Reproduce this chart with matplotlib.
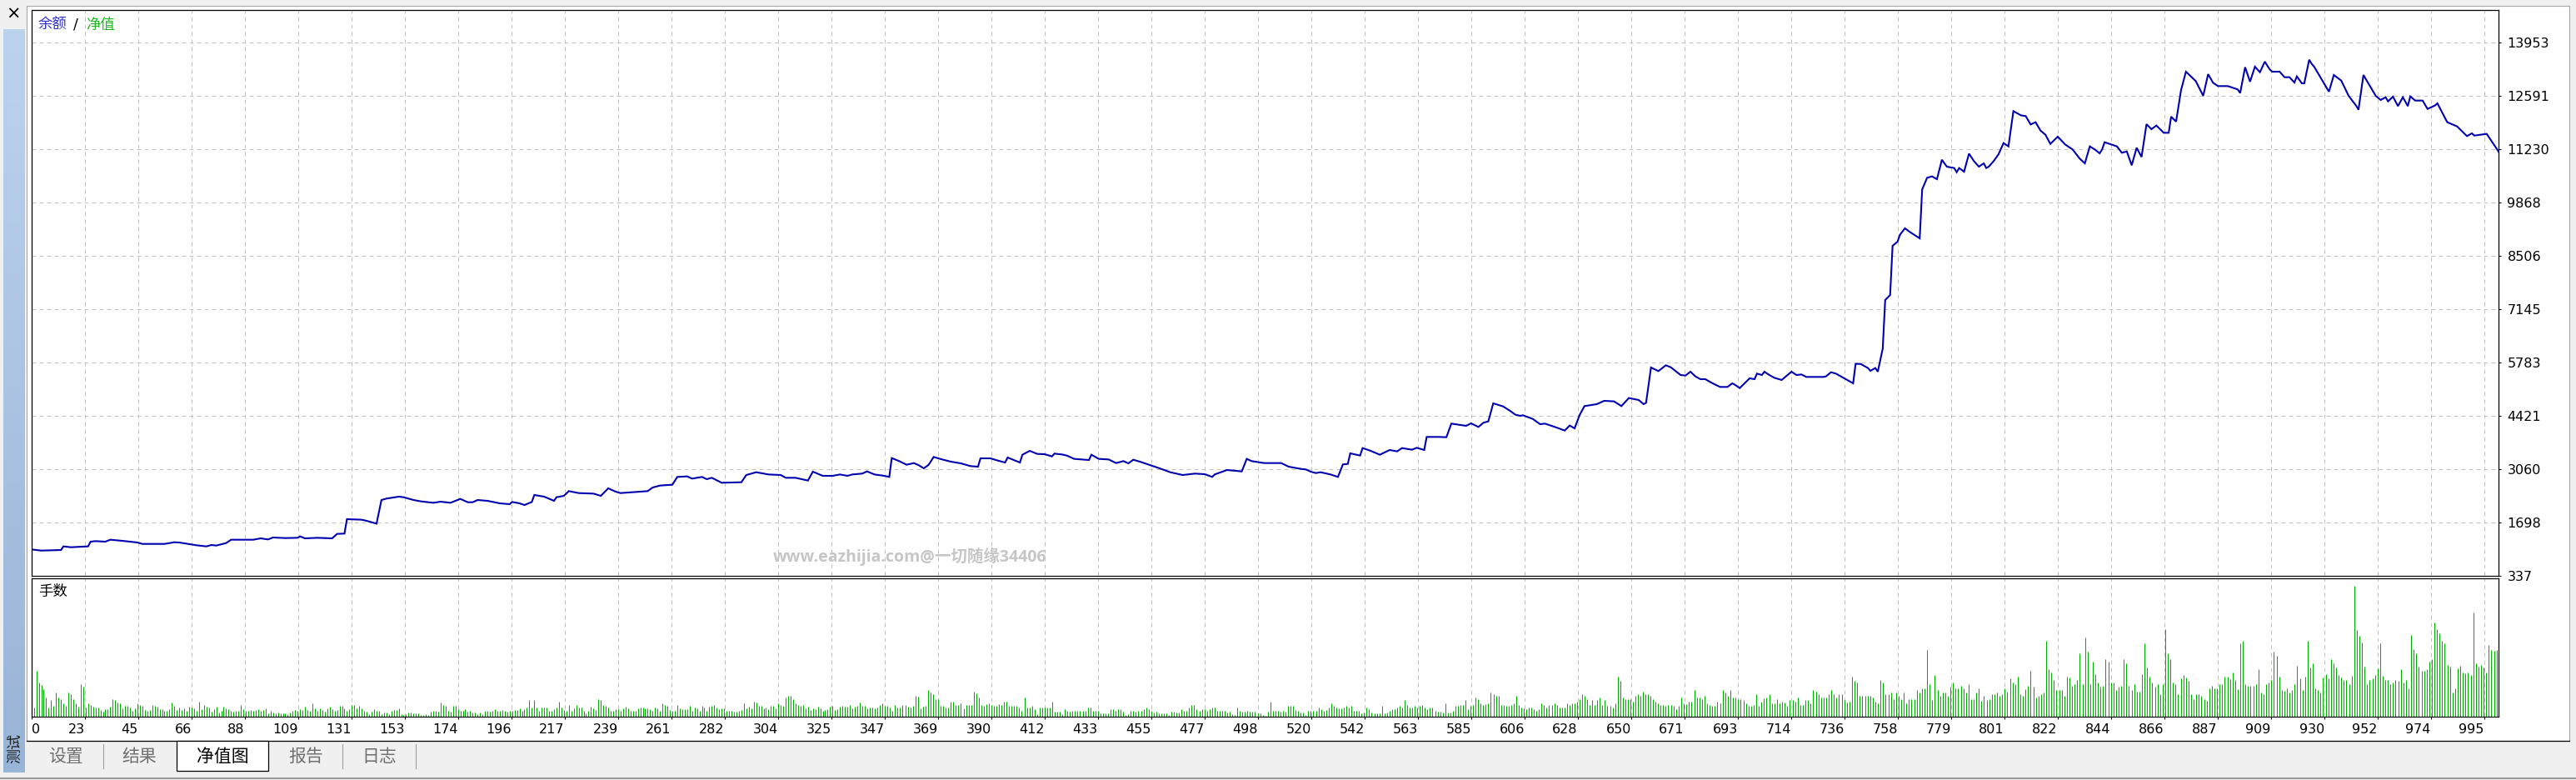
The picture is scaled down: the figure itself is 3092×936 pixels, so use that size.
import numpy as np
import matplotlib.pyplot as plt
from matplotlib.patches import Rectangle
from matplotlib.lines import Line2D

plt.rcParams['font.family'] = ['DejaVu Sans', 'Noto Sans CJK SC']
CJK = ['Noto Sans CJK SC', 'DejaVu Sans']

# balance curve (trade number -> balance)
trade_no = [0, 4, 12, 13, 16, 23, 24, 26, 30, 32, 37, 43, 45, 54, 58, 60, 65, 67, 71, 73, 75, 79, 81, 90, 93, 96,
            98, 103, 108, 109, 111, 116, 122, 124, 127, 128, 134, 136, 140, 142, 144, 149, 151, 155, 158, 163, 166,
            170, 174, 177, 179, 181, 185, 190, 194, 195, 198, 200, 203, 204, 208, 212, 213, 216, 218, 222, 228, 231,
            234, 237, 239, 250, 252, 255, 260, 262, 266, 268, 272, 274, 276, 280, 288, 290, 294, 299, 304, 306, 310,
            315, 317, 321, 325, 328, 331, 333,
            337, 339, 342, 346, 348, 349, 352, 355, 358, 360, 362, 364, 366, 369, 373, 377, 381, 384, 385, 389, 392,
            395, 396, 401, 402, 405, 408, 411, 414, 415, 418, 420, 423, 429, 430, 433, 437, 440, 443, 445, 447, 450,
            454, 458, 462, 467, 472, 476, 479, 480, 485, 491, 493, 495, 500, 507, 510, 515, 517, 519, 521, 523, 527,
            530, 532, 534, 535, 539, 540, 543, 547, 551, 554, 556, 560, 562, 565, 566, 571, 574, 576, 582, 584, 587,
            589, 591, 593, 597, 600, 602, 604, 605, 609, 612, 614, 618, 622, 624, 626, 628, 630, 635, 638, 642, 645,
            648, 652, 654, 655, 657, 660,
            663, 665, 669, 671, 672, 673, 675, 677, 679, 682, 685, 688, 690, 691, 693, 697, 699, 700, 702, 703, 705,
            707, 710, 714, 716, 718, 720, 727, 728, 730, 732, 734, 739, 740, 742, 745, 746, 748, 749, 751, 752, 754,
            755, 757, 758, 760, 762, 766, 767, 769, 771, 773, 775, 777, 780, 781, 782, 784, 786, 788, 790, 792, 793,
            794, 796, 798, 800, 802, 804, 807, 809, 811, 813, 815, 817, 819, 822, 825, 828, 831, 833, 835, 837, 839,
            840, 841, 846, 848, 850, 852, 854, 856, 858, 860, 862, 865, 867, 868, 870, 872, 874, 876, 878, 881, 883,
            885, 887, 891, 895, 896, 898, 900, 902, 904, 906, 908, 909, 912, 914, 916, 918, 919, 921, 922, 924, 925,
            926, 932, 934, 937, 940, 943, 944, 946, 951, 953, 955, 956, 958, 960, 962, 964, 965, 967, 970, 972, 975,
            976, 980, 984, 988, 990, 991, 996, 1001]
balance = [1011, 982, 996, 1089, 1067, 1089, 1209, 1223, 1209, 1259, 1230, 1188, 1152, 1152, 1195, 1188, 1138, 1117,
           1089, 1124, 1110, 1174, 1259, 1259, 1294, 1266, 1316, 1301, 1308, 1344, 1294, 1308, 1294, 1408, 1415, 1784,
           1770, 1741, 1670, 2273, 2309, 2358, 2344, 2273, 2238, 2202, 2230, 2202, 2301, 2216, 2216, 2273, 2252, 2188,
           2167, 2223, 2188, 2145, 2223, 2401, 2358, 2252, 2344, 2379, 2500, 2450, 2436, 2379, 2571, 2486, 2450, 2500,
           2592, 2642, 2663, 2862, 2876, 2819, 2862, 2805, 2840, 2713, 2727, 2911, 2982, 2925, 2911, 2840, 2840, 2769,
           2996, 2890, 2890, 2925, 2890, 2925,
           2947, 3003, 2925, 2890, 2862, 3344, 3266, 3174, 3216, 3159, 3081, 3174, 3372, 3316, 3252, 3209, 3138, 3124,
           3337, 3337, 3280, 3230, 3358, 3230, 3429, 3528, 3450, 3443, 3386, 3457, 3436, 3408, 3323, 3294, 3429, 3323,
           3308, 3216, 3266, 3209, 3301, 3245, 3159, 3074, 2982, 2911, 2947, 2932, 2862, 2925, 3039, 3003, 3323, 3266,
           3216, 3216, 3124, 3067, 3053, 2996, 2961, 2982, 2925, 2862, 3181, 3195, 3464, 3408, 3599, 3535, 3429, 3550,
           3514, 3599, 3557, 3606, 3550, 3883, 3883, 3876, 4223, 4167, 4230, 4138, 4245, 4280, 4741, 4663, 4542, 4450,
           4422, 4436, 4344, 4209, 4223, 4138, 4046, 4174, 4103, 4436, 4670, 4720, 4805, 4791, 4670, 4876, 4826, 4720,
           4755, 5656, 5564,
           5712, 5663, 5464, 5450, 5500, 5549, 5429, 5358, 5358, 5252, 5159, 5159, 5252, 5216, 5131, 5379, 5358, 5500,
           5464, 5549, 5464, 5394, 5337, 5549, 5464, 5478, 5415, 5415, 5429, 5535, 5500, 5429, 5252, 5748, 5748, 5642,
           5571, 5642, 5549, 6138, 7377, 7507, 8762, 8868, 9046, 9209, 9116, 8953, 10202, 10499, 10535, 10464, 10960,
           10783, 10748, 10641, 10748, 10655, 11116, 10925, 10783, 10868, 10748, 10783, 10925, 11102, 11386, 11301,
           12201, 12095, 12074, 11861, 11918, 11705, 11599, 11365, 11549, 11350, 11223, 10982, 10868, 11301, 11223,
           11124, 11223, 11407, 11301, 11138, 11173, 10818, 11265, 11031, 11868, 11740, 11833, 11648, 11648, 12060,
           11932, 12733, 13208, 13088, 12967, 12591, 13145, 12925, 12840, 12840, 12755, 12662, 13322, 12953, 13336,
           13194, 13464, 13265, 13208, 13208, 13067, 13067, 12932, 13088, 12911, 12911, 13513, 13407, 13336, 12698,
           13123, 12981, 12591, 12343, 12237, 13123, 12591, 12485, 12556, 12450, 12570, 12329, 12556, 12329, 12577,
           12471, 12471, 12258, 12343, 12400, 11918, 11811, 11563, 11634, 11577, 11620, 11152]

# lot sizes (x100) per trade, three stretches of the test
lots_a = [32, 165, 123, 112, 97, 70, 32, 61, 40, 87, 70, 63, 47, 40, 87, 82, 62, 47, 37, 117, 108, 32, 47, 41, 37, 34,
          32, 24, 17, 26, 27, 37, 63, 60, 52, 47, 29, 39, 39, 34, 20, 29, 47, 42, 38, 23, 20, 25, 42, 38, 36, 27, 27,
          21, 21, 27, 51, 40, 25, 34, 23, 30, 20, 37, 32, 30, 22, 55, 26, 42, 36, 33, 19, 27, 35, 14, 20, 37, 30, 28,
          20, 17, 20, 20, 43, 27, 22, 22, 25, 21, 25, 27, 20, 24, 31, 12, 22, 15, 12, 14, 13, 13, 12, 10, 15, 20, 25,
          20, 26, 24, 37, 25, 20, 47, 30, 22, 30, 25, 18, 30, 37, 27, 20, 25, 38, 40, 29, 20, 26, 42, 42, 31, 40, 30,
          22, 18, 10, 19, 27, 20, 20, 10, 15, 14, 10, 20, 25, 25, 30, 10, 7, 10, 15, 15, 13, 12, 12, 5, 7, 8, 5, 18,
          20, 20, 18, 50, 42, 38, 22, 19, 38, 38, 28, 20, 22, 28, 17, 20, 15, 16, 10, 15, 10, 20, 20, 18, 20, 26, 22,
          20, 24, 22, 18, 20, 22, 23, 25, 30, 20, 27, 33, 60, 34, 60, 33, 22, 33, 33, 33, 22, 22, 27, 33, 53, 32, 23,
          20, 42, 20, 30, 41, 33, 33, 20, 13, 22, 37, 30, 25, 63, 61, 42, 38, 33, 20, 22, 27, 27, 20, 30, 35, 30, 20,
          22, 20, 30, 34, 32, 30, 30, 28, 20, 33, 30, 20, 48, 42, 40, 25, 22, 22, 41, 30, 27, 27, 27, 40, 20, 33, 30,
          20, 40, 33, 22, 35, 40, 42, 33, 27, 30, 30, 22, 20, 20, 18, 17, 20, 23, 47, 30, 37, 30, 55, 52, 40, 38, 30,
          32, 28, 40, 38, 30, 47, 42, 40, 70, 75, 75, 63, 48, 42, 40, 42, 30, 37, 25, 30, 28, 37, 30, 20, 25, 28, 35,
          40, 25, 27, 35, 40, 35, 37, 42, 30, 37, 40, 50, 38]
lots_b = [39, 30, 33, 33, 31, 34, 42, 49, 39, 39, 32, 21, 42, 33, 33, 42, 41, 37, 33, 39, 75, 71, 29, 35, 39, 96, 87,
          80, 63, 63, 39, 39, 32, 32, 54, 54, 41, 43, 49, 30, 41, 41, 41, 90, 83, 69, 42, 40, 45, 47, 42, 40, 40, 44,
          43, 54, 54, 39, 39, 39, 39, 32, 22, 69, 33, 32, 39, 27, 10, 33, 33, 33, 33, 33, 54, 17, 17, 17, 10, 27, 22,
          17, 21, 21, 21, 21, 21, 21, 33, 33, 21, 21, 21, 12, 12, 12, 12, 27, 27, 21, 27, 27, 18, 7, 10, 21, 21, 19,
          21, 21, 28, 33, 27, 21, 14, 17, 12, 12, 13, 12, 7, 17, 17, 15, 15, 26, 20, 21, 33, 42, 41, 28, 20, 27, 27,
          20, 27, 33, 33, 21, 21, 21, 21, 14, 17, 10, 7, 33, 21, 17, 17, 20, 17, 18, 17, 12, 13, 7, 4, 17, 54, 21, 21,
          21, 19, 21, 19, 39, 39, 39, 23, 21, 14, 14, 7, 21, 21, 21, 21, 33, 27, 21, 25, 33, 48, 39, 33, 29, 29, 33,
          39, 33, 39, 21, 21, 21, 12, 14, 33, 27, 14, 12, 12, 12, 39, 12, 14, 21, 27, 27, 33, 39, 33, 60, 42, 33, 33,
          39, 33, 39, 42, 33, 27, 33, 33, 21, 19, 19, 14, 48, 14, 14, 21, 39, 39, 42, 42, 60, 27, 39, 42, 69, 63, 48,
          42, 44, 48, 87, 81, 75, 75, 42, 42, 39, 39, 42, 48, 75, 42, 33, 29, 27, 33, 33, 27, 21, 27, 48, 42, 33, 42,
          42, 48, 42, 33, 33, 33, 48, 42, 48, 48, 54, 63, 81, 75, 63, 42, 60, 42, 60, 69, 42, 60, 39, 39, 33, 48, 144,
          129, 69, 63, 63, 63, 54, 75, 81, 75, 90, 81, 81, 75, 63, 54, 48, 42, 42, 39]
lots_c = [42, 41, 39, 27, 39, 69, 48, 45, 54, 54, 96, 69, 69, 63, 75, 48, 42, 39, 39, 54, 48, 96, 87, 75, 96, 69, 69,
          63, 63, 60, 48, 39, 39, 42, 81, 39, 54, 66, 69, 81, 48, 48, 63, 48, 55, 52, 39, 60, 60, 54, 69, 42, 42, 60,
          60, 48, 96, 89, 81, 69, 69, 69, 81, 96, 81, 69, 81, 81, 61, 50, 54, 144, 129, 123, 75, 75, 75, 75, 75, 69,
          54, 48, 132, 123, 81, 81, 87, 63, 87, 75, 63, 87, 48, 63, 63, 63, 96, 87, 102, 102, 240, 117, 60, 150, 96,
          75, 87, 87, 75, 108, 123, 102, 102, 111, 102, 87, 117, 63, 63, 87, 102, 57, 75, 60, 63, 81, 81, 87, 75, 81,
          102, 90, 138, 123, 117, 144, 81, 75, 99, 111, 165, 108, 69, 75, 81, 87, 270, 171, 159, 132, 96, 96, 96, 75,
          144, 141, 111, 117, 132, 228, 117, 282, 234, 117, 198, 153, 123, 108, 111, 207, 198, 123, 123, 96, 108, 111,
          207, 192, 111, 96, 117, 90, 90, 153, 261, 177, 144, 123, 108, 117, 81, 117, 312, 228, 207, 123, 117, 81,
          138, 150, 141, 129, 81, 63, 81, 81, 75, 63, 57, 102, 111, 102, 102, 117, 117, 144, 144, 135, 159, 132, 99,
          261, 270, 117, 111, 111, 111, 117, 171, 87, 81, 117, 123, 132, 234, 219, 144, 96, 93, 102, 87, 96, 117, 182,
          138, 96, 144, 270, 177, 192, 102, 96, 87, 141, 153, 138, 207, 192, 177, 150, 141, 132, 132, 117, 147, 469,
          309, 288, 264, 180, 117, 132, 138, 150, 174, 261, 147, 132, 132, 117, 123, 132, 129, 171, 123, 132, 102,
          292, 243, 228, 180, 165, 165, 171, 198, 207, 336, 312, 297, 270, 261, 186, 180, 87, 102, 174, 183, 159, 156,
          159, 150, 372, 192, 180, 186, 177, 159, 255, 240, 237, 240]

x_labels = ['0', '23', '45', '66', '88', '109', '131', '153', '174', '196', '217', '239', '261', '282', '304', '325',
            '347', '369', '390', '412', '433', '455', '477', '498', '520', '542', '563', '585', '606', '628', '650',
            '671', '693', '714', '736', '758', '779', '801', '822', '844', '866', '887', '909', '930', '952', '974',
            '995']
y_labels = ['337', '1698', '3060', '4421', '5783', '7145', '8506', '9868', '11230', '12591', '13953']

W, H = 3092, 936
fig = plt.figure(figsize=(W / 100, H / 100), dpi=100, facecolor='#f0f0f0')


def box(x0, y0, x1, y1, **kw):
    fig.add_artist(Rectangle((x0 / W, 1 - y1 / H), (x1 - x0) / W, (y1 - y0) / H,
                             transform=fig.transFigure, **kw))


def fline(xs, ys, **kw):
    fig.add_artist(Line2D([x / W for x in xs], [1 - y / H for y in ys], transform=fig.transFigure, **kw))


# window chrome
box(32, 7, 3084, 889, facecolor='white', edgecolor='#a8a8a8', lw=0.8, zorder=-5)
grad = np.linspace(0, 1, 200).reshape(-1, 1)
side = fig.add_axes([4 / W, 1 - 927 / H, 26 / W, (927 - 35) / H], zorder=-4)
side.imshow(grad, aspect='auto', cmap=plt.matplotlib.colors.LinearSegmentedColormap.from_list(
    'side', ['#bcd3ee', '#98b4d6']), extent=(0, 1, 0, 1), origin='upper')
side.set_axis_off()
fig.text(16 / W, 1 - 17 / H, '×', fontsize=15, ha='center', va='center', color='black')
fig.text(18 / W, 1 - 898 / H, '测试', family=CJK, fontsize=13, rotation=90, ha='center', va='center',
         color='#202020')

# tab strip
fline([32, 3084], [889, 889], color='black', lw=0.9)
box(212, 889, 322, 925, facecolor='white', edgecolor='black', lw=0.9, zorder=2)
fline([0, W], [934, 934], color='#9a9a9a', lw=1.5)
for sx in [124, 411, 499]:
    fline([sx, sx], [893, 922], color='#a0a0a0', lw=0.8)
for tx, name, col in [(79, '设置', '#707070'), (167, '结果', '#707070'), (267, '净值图', 'black'),
                      (367, '报告', '#707070'), (455, '日志', '#707070')]:
    fig.text(tx / W, 1 - 908 / H, name, family=CJK, fontsize=15, ha='center', va='center', color=col, zorder=3)

L, R = 37.7, 2999
ax = fig.add_axes([L / W, 1 - 691 / H, (R - L) / W, (691 - 12) / H])
ax2 = fig.add_axes([L / W, 1 - 860 / H, (R - L) / W, (860 - 694) / H])

xt = np.arange(len(x_labels)) * 995 / (len(x_labels) - 1)
y_step = (13953 - 337) / 10
yt = 337 + np.arange(len(y_labels)) * y_step
grid_kw = dict(color='#c4c4c4', lw=0.72, ls=(0, (5, 4)))

for a in (ax, ax2):
    a.set_xlim(0, 1000.8)
    a.set_xticks(xt)
    a.set_axisbelow(True)
    a.grid(True, axis='x', **grid_kw)
    for s in a.spines.values():
        s.set_linewidth(0.9)
        s.set_color('black')

ax.plot(trade_no, balance, color='#0000b0', lw=1.5, solid_joinstyle='miter')
ax.set_ylim(337, 337 + 679 * (13616 / 640))
ax.set_yticks(yt)
ax.set_yticklabels(y_labels)
ax.grid(True, axis='y', **grid_kw)
ax.yaxis.tick_right()
ax.tick_params(axis='y', direction='out', length=2.5, width=0.72, pad=5, labelsize=11.5)
ax.tick_params(axis='x', length=0, labelbottom=False)

fig.text(46 / W, 1 - 30 / H, '余额', family=CJK, fontsize=12.5, color='#3030d0', va='center')
fig.text(88 / W, 1 - 30 / H, '/', fontsize=12.5, color='black', va='center')
fig.text(103 / W, 1 - 30 / H, '净值', family=CJK, fontsize=12.5, color='#20b820', va='center')

fig.text(1092 / W, 1 - 668 / H, 'www.eazhijia.com@一切随缘34406', family=['Open Sans', 'Noto Sans CJK SC'],
         fontsize=14, fontweight='bold', color='#c6c6c6', ha='center', va='center')

# lots panel
xa = np.linspace(1, 337, len(lots_a))
xb = np.linspace(338, 663, len(lots_b))
xc = np.linspace(664, 1000, len(lots_c))
bar_x = np.concatenate([xa, xb, xc])
bar_h = np.array(lots_a + lots_b + lots_c) / 100
ax2.vlines(bar_x, 0, bar_h, color='#00b000', lw=0.75)
ax2.set_ylim(0, 4.95)
ax2.set_yticks([])
ax2.set_xticklabels(x_labels)
ax2.tick_params(axis='x', direction='out', length=2.5, width=0.72, pad=3, labelsize=11.5)
for i, lbl in enumerate(ax2.get_xticklabels()):
    lbl.set_ha('left' if i == 0 else 'right')
ax2.text(46 / W, 1 - 710 / H, '手数', family=CJK, fontsize=12.5, color='black', va='center',
         transform=fig.transFigure)

fig.savefig('out.png', dpi=100, facecolor=fig.get_facecolor())
